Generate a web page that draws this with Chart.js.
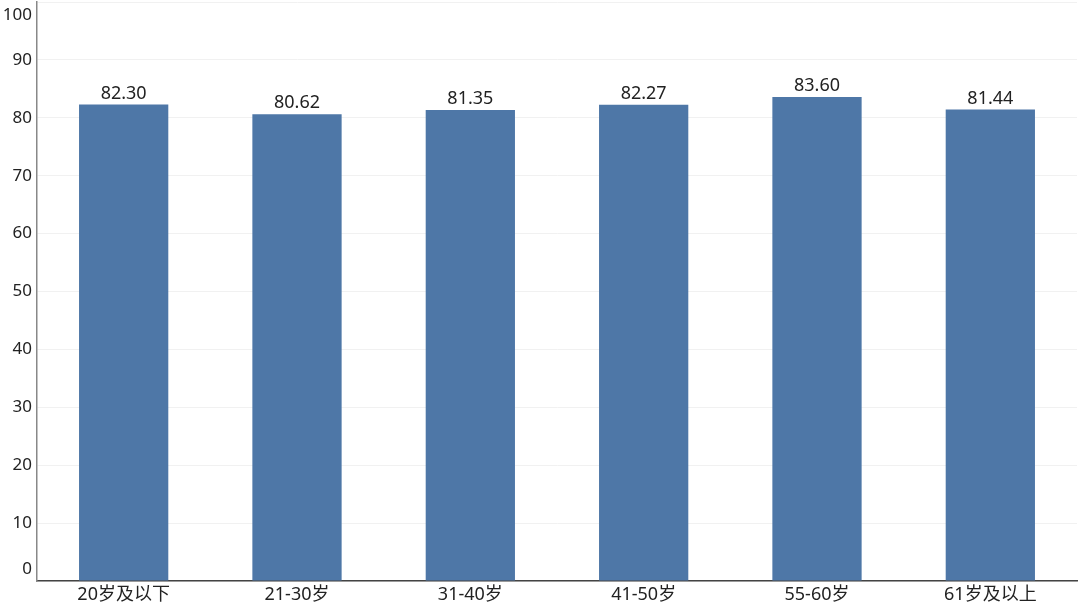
<!DOCTYPE html>
<html>
<head>
<meta charset="utf-8">
<script src="https://cdn.jsdelivr.net/npm/chart.js@4"></script>
<style>
  html, body { margin: 0; padding: 0; background: #fff; }
  canvas { display: block; }
</style>
</head>
<body>
<canvas id="chart" width="1080" height="612"></canvas>
<script>
// datos
const categorias = ["20岁及以下", "21-30岁", "31-40岁", "41-50岁", "55-60岁", "61岁及以上"];
const valores = [82.30, 80.62, 81.35, 82.27, 83.60, 81.44];
const yTicks = [0, 10, 20, 30, 40, 50, 60, 70, 80, 90, 100];

const FONT = '"Noto Sans", "Noto Sans CJK SC", sans-serif';

// etiquetas de valor encima de cada barra
const etiquetasBarras = {
  id: "etiquetasBarras",
  afterDatasetsDraw(chart) {
    const ctx = chart.ctx;
    const meta = chart.getDatasetMeta(0);
    ctx.save();
    ctx.font = "18px " + FONT;
    ctx.fillStyle = "#222";
    ctx.textAlign = "center";
    ctx.textBaseline = "bottom";
    meta.data.forEach((bar, i) => {
      ctx.fillText(valores[i].toFixed(2), bar.x, bar.y - 2);
    });
    ctx.restore();
  }
};

// etiquetas del eje Y (los extremos quedan dentro del area)
const etiquetasY = {
  id: "etiquetasY",
  afterDraw(chart) {
    const ctx = chart.ctx;
    const y = chart.scales.y;
    const area = chart.chartArea;
    ctx.save();
    ctx.font = "17px " + FONT;
    ctx.fillStyle = "#222";
    ctx.textAlign = "right";
    ctx.textBaseline = "middle";
    yTicks.forEach(v => {
      let py = y.getPixelForValue(v);
      py = Math.max(area.top + 13, Math.min(area.bottom - 12, py));
      ctx.fillText(String(v), 32, py);
    });
    ctx.restore();
  }
};

new Chart(document.getElementById("chart"), {
  type: "bar",
  data: {
    labels: categorias,
    datasets: [{
      data: valores,
      backgroundColor: "#4e77a7",
      borderWidth: 0,
      barPercentage: 0.515,
      categoryPercentage: 1
    }]
  },
  options: {
    responsive: false,
    animation: false,
    layout: { padding: { top: 2, right: 3, left: 0, bottom: 0 } },
    plugins: {
      legend: { display: false },
      tooltip: { enabled: false }
    },
    scales: {
      x: {
        grid: { display: false, drawTicks: false },
        border: { color: "#444", width: 1.5 },
        ticks: {
          color: "#222",
          font: { family: FONT, size: 18 },
          padding: 3,
          maxRotation: 0
        },
        afterFit(scale) { scale.height = 31; }
      },
      y: {
        min: 0,
        max: 100,
        grid: { color: "#f1f1f1", drawTicks: false },
        border: { color: "#888", width: 1.5 },
        ticks: {
          stepSize: 10,
          callback: () => ""
        },
        afterFit(scale) {
          scale.width = 37;
          scale.paddingTop = 0;
          scale.paddingBottom = 0;
        }
      }
    }
  },
  plugins: [etiquetasBarras, etiquetasY]
});
</script>
</body>
</html>
